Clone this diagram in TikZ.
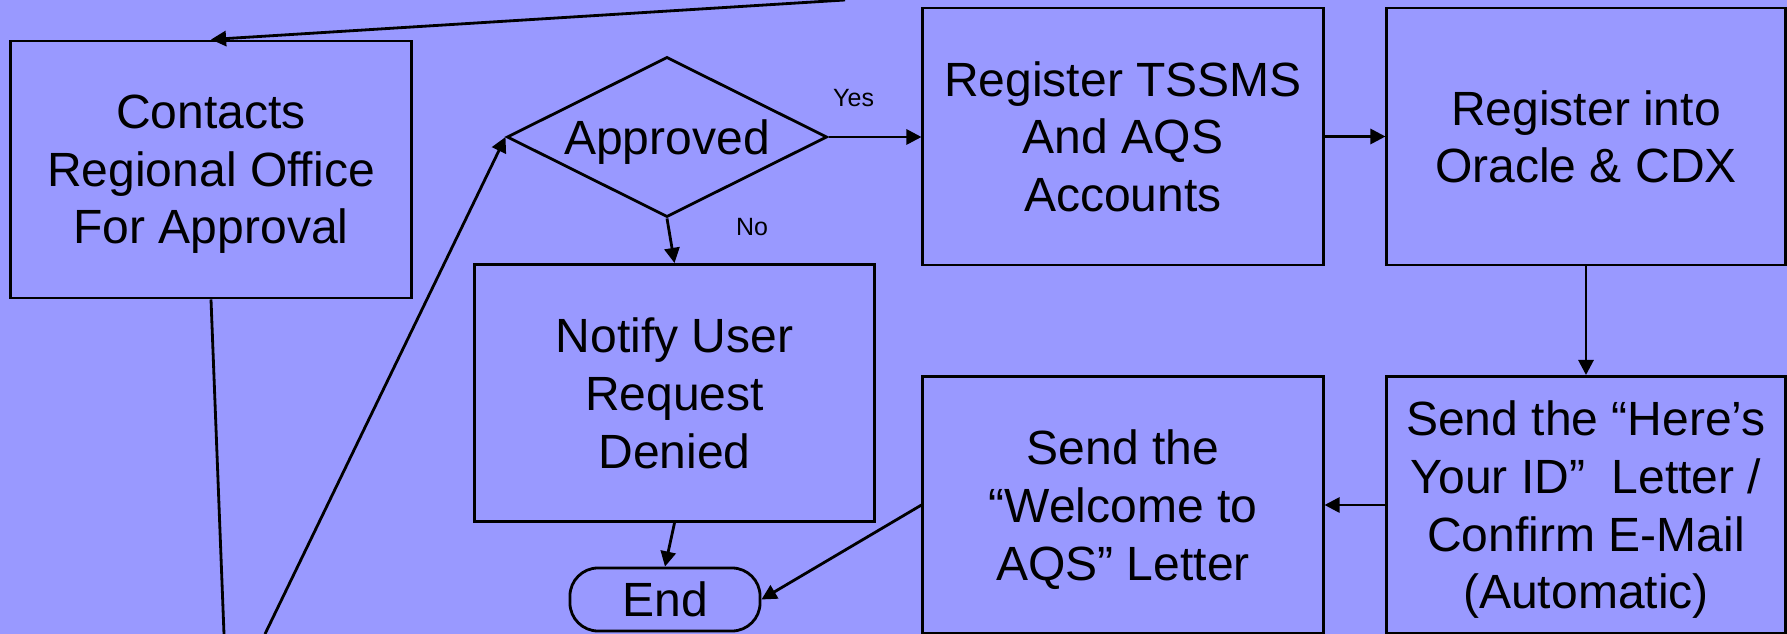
\documentclass[tikz,border=0pt]{standalone}
\usepackage{fontspec}
\setmainfont{Liberation Sans}
\usetikzlibrary{shapes.geometric,arrows.meta}
\definecolor{bgblue}{RGB}{153,153,255}

\begin{document}
\begin{tikzpicture}[x=0.01cm,y=-0.01cm,
    box/.style={draw,line width=0.8pt,minimum width=4cm,minimum height=2.57cm,inner sep=0pt,align=center,text depth=0pt,font=\fontsize{13.66pt}{16.4pt}\selectfont},
    decision/.style={draw,diamond,aspect=2,line width=0.8pt,minimum width=3.2cm,minimum height=1.6cm,inner sep=0pt,text depth=0pt,font=\fontsize{13.66pt}{16.4pt}\selectfont},
    terminal/.style={draw,rounded corners=8pt,line width=0.8pt,minimum width=1.9cm,minimum height=0.63cm,inner sep=0pt,text depth=0pt,font=\fontsize{13.66pt}{16.4pt}\selectfont},
    flow/.style={line width=0.8pt,-{Triangle[length=4.3pt,width=4.3pt]}},
    small/.style={font=\fontsize{7.1pt}{8.5pt}\selectfont}]
    \useasboundingbox (0,0) rectangle (1787,634);
    \fill[bgblue] (0,0) rectangle (1787,634);

    \node[box] (contacts) at (211,169.5) {Contacts\\Regional Office\\For Approval};
    \node[decision] (approved) at (667,137) {Approved};
    \node[box] (tssms) at (1123,136.5) {Register TSSMS\\And AQS\\Accounts};
    \node[box,minimum width=3.98cm] (oracle) at (1586,136.5) {Register into\\Oracle \& CDX};
    \node[box,minimum width=3.99cm] (notify) at (674.5,393) {Notify User\\Request\\Denied};
    \node[box] (welcome) at (1123,505) {Send the\\“Welcome to\\AQS” Letter};
    \node[box,minimum width=3.98cm] (hereid) at (1586,505) {Send the “Here’s\\Your ID”\ \ Letter /\\Confirm E-Mail\\(Automatic)};
    \node[terminal] (endnode) at (665,599.5) {End};

    \coordinate (topin) at (845,0);
    \coordinate (botout) at (224,634);
    \coordinate (botin) at (265,634);

    \draw[flow] (topin) -- (contacts.north);
    \draw[line width=0.8pt] (contacts.south) -- (botout);
    \draw[flow] (botin) -- (approved.west);
    \draw[flow] (approved.east) -- (approved.east -| tssms.west) node[small,pos=0.27,above=5pt] {Yes};
    \draw[flow] (approved.south) -- (notify.north);
    \node[small] (nolabel) at (752,227) {No};
    \draw[flow] (tssms.east) -- (tssms.east -| oracle.west);
    \draw[flow] (oracle.south) -- (hereid.north);
    \draw[flow] (hereid.west) -- (hereid.west -| welcome.east);
    \draw[flow] (welcome.west) -- (endnode.east);
    \draw[flow] (notify.south) -- (endnode.north);

\end{tikzpicture}
\end{document}
